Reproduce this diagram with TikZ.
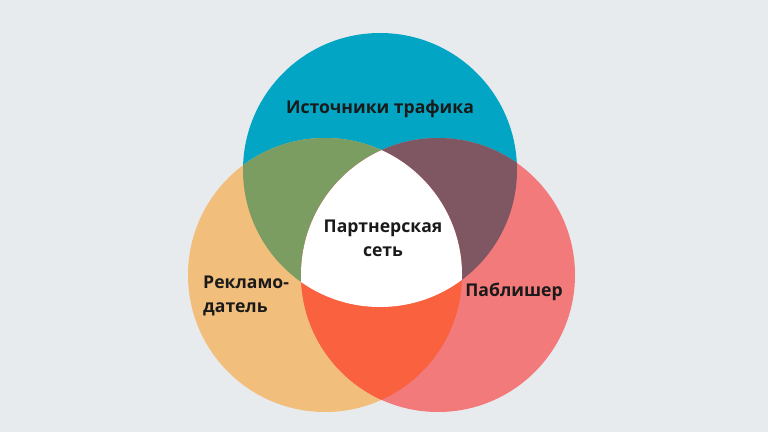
\documentclass[tikz,border=0pt]{standalone}
\usepackage{fontspec}
\setmainfont{Open Sans}
\usepackage{xcolor}

\definecolor{bgcol}{HTML}{E8EBEE}
\definecolor{trafcol}{HTML}{02A5C4}
\definecolor{advcol}{HTML}{F2BE7C}
\definecolor{pubcol}{HTML}{F27A7A}
\definecolor{greencol}{HTML}{7B9D62}
\definecolor{mauvecol}{HTML}{7E5763}
\definecolor{redcol}{HTML}{FA613F}
\definecolor{txtcol}{HTML}{1A1A1A}

\tikzset{
  lbl/.style={text=txtcol, font=\fontsize{17.6}{24}\selectfont\bfseries, inner sep=0pt},
}

\begin{document}
\begin{tikzpicture}[x=1pt,y=1pt]
\fill[bgcol] (0,0) rectangle (768,432); %background

\def\rad{137}
\fill[trafcol] (380,262) circle (\rad);
\fill[advcol] (325,157) circle (\rad);
\fill[pubcol] (438,157) circle (\rad);

\begin{scope} %top-left overlap
\clip (380,262) circle (\rad);
\fill[greencol] (325,157) circle (\rad);
\end{scope}
\begin{scope} %top-right overlap
\clip (380,262) circle (\rad);
\fill[mauvecol] (438,157) circle (\rad);
\end{scope}
\begin{scope} %bottom overlap
\clip (325,157) circle (\rad);
\fill[redcol] (438,157) circle (\rad);
\end{scope}
\begin{scope} %centre
\clip (380,262) circle (\rad);
\clip (325,157) circle (\rad);
\fill[white] (438,157) circle (\rad);
\end{scope}

\node[lbl] (traffic) at (380,323) {Источники трафика};
\node[lbl, align=center] (network) at (383,194) {Партнерская\\сеть};
\node[lbl, align=left, anchor=west] (advert) at (203,136) {Рекламо-\\датель};
\node[lbl] (publisher) at (514,140) {Паблишер};

\end{tikzpicture}
\end{document}
